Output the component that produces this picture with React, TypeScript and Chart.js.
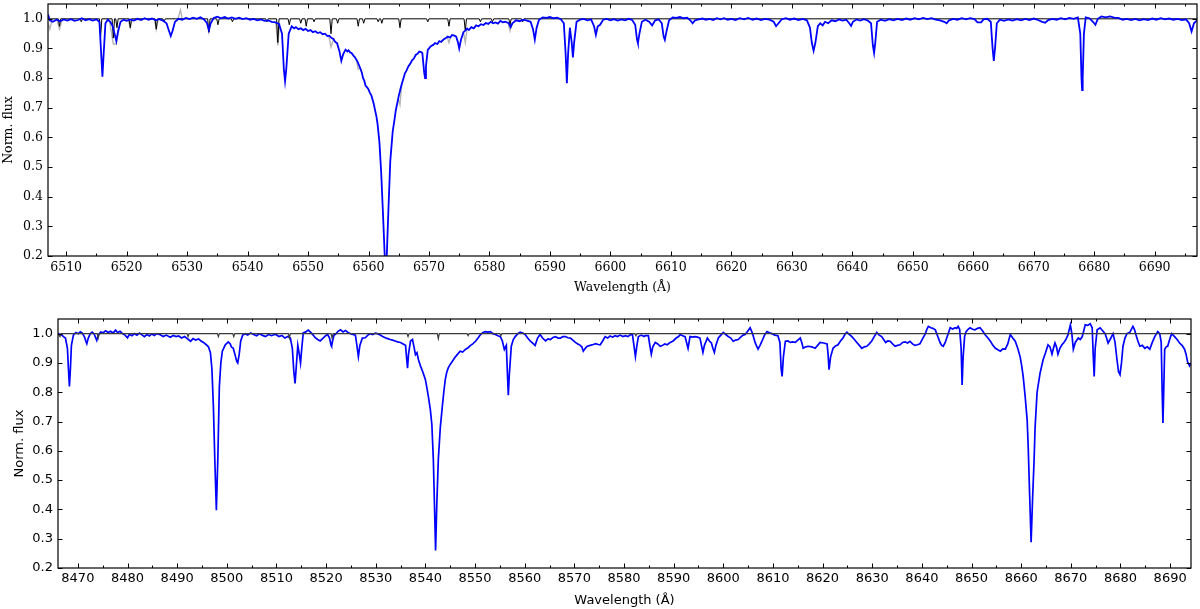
import React, { useEffect, useRef } from 'react';
import { Chart, registerables } from 'chart.js';
Chart.register(...registerables);

type Pt = [number, number];

// ---------- axis definitions ----------
const haXRange: [number, number] = [6507, 6697];
const caXRange: [number, number] = [8466, 8694.2];
const fluxRange: [number, number] = [0.2, 1.05];
const haXTicks = [6510, 6520, 6530, 6540, 6550, 6560, 6570, 6580, 6590, 6600, 6610, 6620, 6630, 6640, 6650, 6660, 6670, 6680, 6690];
const caXTicks = [8470, 8480, 8490, 8500, 8510, 8520, 8530, 8540, 8550, 8560, 8570, 8580, 8590, 8600, 8610, 8620, 8630, 8640, 8650, 8660, 8670, 8680, 8690];
const fluxTicks = [0.2, 0.3, 0.4, 0.5, 0.6, 0.7, 0.8, 0.9, 1.0];
const xTitle = 'Wavelength (Å)';
const yTitle = 'Norm. flux';

// ---------- H-alpha region: telluric-corrected spectrum (blue) ----------
const haCorrected: Pt[] = [
  [6507.0, 1.015], [6507.3, 0.995], [6507.8, 0.99], [6508.4, 0.997], [6509.0, 0.992], [6509.6, 0.998], [6510.2, 0.994],
  [6510.8, 0.999], [6511.4, 0.993], [6512.0, 0.996], [6512.6, 1.002], [6513.2, 0.995], [6513.8, 0.999], [6514.4, 0.994],
  [6515.0, 0.998], [6515.5, 0.99], [6515.8, 0.88], [6516.0, 0.805], [6516.2, 0.88], [6516.5, 0.985], [6516.9, 0.997],
  [6517.3, 0.99], [6517.7, 0.975], [6518.0, 0.95], [6518.3, 0.925], [6518.6, 0.96], [6519.0, 0.99], [6519.5, 0.997],
  [6520.0, 0.993], [6520.6, 0.998], [6521.2, 0.994], [6521.8, 1.0], [6522.4, 0.996], [6523.0, 1.002], [6523.6, 0.997],
  [6524.2, 1.001], [6524.8, 0.995], [6525.4, 0.999], [6526.0, 0.994], [6526.6, 0.985], [6527.0, 0.96], [6527.3, 0.942],
  [6527.6, 0.96], [6528.0, 0.99], [6528.6, 1.0], [6529.2, 0.997], [6529.8, 1.003], [6530.4, 0.999], [6531.0, 1.004],
  [6531.6, 1.0], [6532.2, 1.005], [6532.8, 0.998], [6533.3, 0.985], [6533.6, 0.962], [6533.9, 0.985], [6534.4, 1.003],
  [6535.0, 1.007], [6535.6, 1.002], [6536.2, 1.006], [6536.8, 1.001], [6537.4, 1.005], [6538.0, 1.0], [6538.6, 1.004],
  [6539.2, 0.999], [6539.8, 1.002], [6540.4, 0.997], [6541.0, 1.0], [6541.6, 0.995], [6542.2, 0.998], [6542.8, 0.993],
  [6543.4, 0.995], [6544.0, 0.99], [6544.6, 0.988], [6545.2, 0.983], [6545.7, 0.95], [6546.0, 0.83], [6546.2, 0.79],
  [6546.4, 0.83], [6546.8, 0.95], [6547.3, 0.975], [6547.7, 0.968], [6548.0, 0.972], [6548.4, 0.965], [6548.8, 0.968],
  [6549.2, 0.962], [6549.6, 0.966], [6550.0, 0.959], [6550.4, 0.962], [6550.8, 0.955], [6551.2, 0.958], [6551.6, 0.952],
  [6552.0, 0.955], [6552.4, 0.948], [6552.8, 0.95], [6553.2, 0.942], [6553.5, 0.943], [6553.9, 0.935], [6554.2, 0.932],
  [6554.5, 0.922], [6554.8, 0.918], [6555.2, 0.89], [6555.5, 0.858], [6555.8, 0.88], [6556.2, 0.896], [6556.5, 0.89],
  [6556.7, 0.894], [6557.0, 0.886], [6557.2, 0.885], [6557.5, 0.876], [6557.7, 0.872], [6558.0, 0.862], [6558.2, 0.855],
  [6558.5, 0.84], [6558.7, 0.83], [6558.9, 0.818], [6559.1, 0.8], [6559.3, 0.792], [6559.5, 0.775], [6559.8, 0.768],
  [6560.0, 0.762], [6560.2, 0.752], [6560.5, 0.74], [6560.7, 0.725], [6560.9, 0.71], [6561.1, 0.69], [6561.3, 0.672],
  [6561.5, 0.645], [6561.8, 0.585], [6562.1, 0.48], [6562.4, 0.34], [6562.7, 0.19], [6562.85, 0.15], [6563.0, 0.19],
  [6563.3, 0.36], [6563.6, 0.52], [6564.0, 0.62], [6564.3, 0.66], [6564.5, 0.69], [6564.8, 0.72], [6565.0, 0.74],
  [6565.3, 0.765], [6565.5, 0.78], [6565.8, 0.8], [6566.0, 0.815], [6566.3, 0.826], [6566.6, 0.84], [6566.9, 0.848],
  [6567.2, 0.86], [6567.5, 0.866], [6567.8, 0.878], [6568.1, 0.882], [6568.4, 0.89], [6568.7, 0.888], [6568.9, 0.885],
  [6569.2, 0.82], [6569.35, 0.8], [6569.5, 0.84], [6569.8, 0.895], [6570.3, 0.908], [6570.7, 0.912], [6571.0, 0.918],
  [6571.4, 0.915], [6571.7, 0.925], [6572.0, 0.922], [6572.4, 0.93], [6572.8, 0.935], [6573.1, 0.94], [6573.5, 0.937],
  [6573.8, 0.945], [6574.2, 0.943], [6574.5, 0.94], [6574.8, 0.92], [6575.0, 0.9], [6575.3, 0.93], [6575.7, 0.955],
  [6576.0, 0.96], [6576.3, 0.967], [6576.6, 0.962], [6577.0, 0.972], [6577.4, 0.968], [6577.8, 0.978], [6578.2, 0.975],
  [6578.6, 0.982], [6579.0, 0.979], [6579.4, 0.986], [6579.8, 0.983], [6580.2, 0.99], [6580.6, 0.985], [6581.0, 0.988],
  [6581.4, 0.984], [6581.8, 0.993], [6582.2, 0.988], [6582.6, 0.99], [6583.2, 0.985], [6583.5, 0.972], [6583.8, 0.985],
  [6584.4, 0.995], [6585.0, 0.992], [6585.6, 0.997], [6586.2, 0.994], [6586.8, 0.99], [6587.2, 0.965], [6587.5, 0.93],
  [6587.8, 0.97], [6588.2, 0.997], [6588.8, 1.005], [6589.4, 1.003], [6590.0, 1.006], [6590.6, 1.002], [6591.2, 1.004],
  [6591.8, 0.999], [6592.3, 0.985], [6592.6, 0.88], [6592.8, 0.783], [6593.0, 0.88], [6593.3, 0.97], [6593.6, 0.92],
  [6593.8, 0.87], [6594.0, 0.92], [6594.4, 0.99], [6595.0, 0.997], [6595.6, 1.0], [6596.2, 0.995], [6596.8, 0.998],
  [6597.3, 0.975], [6597.6, 0.946], [6597.9, 0.975], [6598.3, 0.98], [6598.8, 0.997], [6599.4, 1.0], [6600.0, 0.995],
  [6600.6, 0.999], [6601.2, 0.994], [6601.8, 0.998], [6602.4, 0.995], [6603.0, 1.0], [6603.6, 0.996], [6604.1, 0.98],
  [6604.4, 0.93], [6604.55, 0.918], [6604.8, 0.95], [6605.2, 0.99], [6605.8, 0.997], [6606.4, 0.99], [6606.9, 0.978],
  [6607.4, 0.995], [6608.0, 0.998], [6608.5, 0.985], [6608.8, 0.94], [6609.0, 0.929], [6609.3, 0.96], [6609.7, 0.995],
  [6610.3, 1.005], [6610.9, 1.003], [6611.5, 1.006], [6612.1, 1.002], [6612.7, 1.004], [6613.2, 0.995], [6613.6, 0.985],
  [6614.0, 0.995], [6614.6, 0.998], [6615.2, 1.001], [6615.8, 0.997], [6616.4, 1.0], [6617.0, 0.996], [6617.6, 1.002],
  [6618.2, 0.998], [6618.8, 1.002], [6619.4, 0.997], [6620.0, 1.0], [6620.7, 0.996], [6621.4, 1.002], [6622.1, 0.998],
  [6622.8, 1.003], [6623.5, 0.997], [6624.2, 1.001], [6624.9, 0.996], [6625.6, 1.0], [6626.3, 0.997], [6627.0, 0.99],
  [6627.4, 0.975], [6627.8, 0.985], [6628.3, 0.998], [6629.0, 1.002], [6629.7, 0.997], [6630.4, 1.001], [6631.1, 0.996],
  [6631.8, 1.0], [6632.5, 0.995], [6633.0, 0.97], [6633.3, 0.92], [6633.6, 0.892], [6633.9, 0.92], [6634.3, 0.975],
  [6634.7, 0.985], [6635.1, 0.978], [6635.5, 0.99], [6636.0, 0.985], [6636.6, 0.995], [6637.2, 0.992], [6637.8, 0.998],
  [6638.4, 0.994], [6639.0, 0.997], [6639.5, 0.985], [6639.8, 0.976], [6640.1, 0.99], [6640.7, 0.998], [6641.3, 0.994],
  [6641.9, 0.999], [6642.5, 0.995], [6643.1, 0.985], [6643.4, 0.91], [6643.6, 0.885], [6643.8, 0.92], [6644.1, 0.99],
  [6644.7, 0.997], [6645.4, 0.993], [6646.1, 0.999], [6646.8, 0.995], [6647.5, 1.0], [6648.2, 0.996], [6648.9, 1.001],
  [6649.6, 0.997], [6650.3, 1.002], [6651.0, 0.998], [6651.7, 1.003], [6652.4, 0.999], [6653.1, 1.002], [6653.8, 0.997],
  [6654.5, 0.995], [6655.2, 0.99], [6655.6, 0.985], [6656.0, 0.995], [6656.7, 1.0], [6657.4, 0.997], [6658.1, 1.002],
  [6658.8, 0.998], [6659.5, 1.002], [6660.2, 0.999], [6660.7, 0.988], [6661.3, 0.988], [6661.7, 0.998], [6662.3, 1.0],
  [6662.9, 0.99], [6663.2, 0.9], [6663.4, 0.858], [6663.6, 0.9], [6663.9, 0.985], [6664.4, 0.997], [6665.1, 0.993],
  [6665.8, 0.998], [6666.5, 0.994], [6667.2, 0.999], [6667.9, 0.995], [6668.6, 1.0], [6669.3, 0.996], [6670.0, 1.001],
  [6670.7, 0.996], [6671.4, 0.99], [6671.9, 0.987], [6672.4, 0.996], [6673.1, 1.0], [6673.8, 0.997], [6674.5, 1.002],
  [6675.2, 0.998], [6675.9, 1.003], [6676.6, 1.0], [6677.3, 1.005], [6677.7, 0.95], [6677.9, 0.8], [6678.0, 0.76],
  [6678.1, 0.8], [6678.3, 0.95], [6678.6, 1.005], [6679.2, 1.002], [6679.8, 0.99], [6680.2, 0.98], [6680.6, 1.0],
  [6681.2, 1.008], [6681.9, 1.005], [6682.6, 1.008], [6683.3, 1.004], [6684.0, 1.003], [6684.7, 0.997], [6685.4, 1.0],
  [6686.1, 0.996], [6686.8, 1.0], [6687.5, 0.995], [6688.2, 0.999], [6688.9, 0.996], [6689.6, 1.001], [6690.3, 0.997],
  [6691.0, 1.002], [6691.7, 0.998], [6692.4, 1.001], [6693.1, 0.997], [6693.8, 1.0], [6694.5, 0.996], [6695.2, 0.998],
  [6695.7, 0.985], [6696.1, 0.957], [6696.5, 0.985], [6697.0, 0.995],
];

// ---------- H-alpha region: telluric model (black) ----------
const haTelluric: Pt[] = [
  [6507.0, 1.0], [6508.7, 1.0], [6508.9, 0.975], [6509.1, 1.0], [6512.3, 1.0], [6512.5, 0.99], [6512.7, 1.0],
  [6515.5, 1.0], [6515.7, 0.94], [6515.9, 1.0], [6517.6, 1.0], [6517.8, 0.935], [6518.0, 1.0], [6518.2, 1.0],
  [6518.4, 0.97], [6518.6, 1.0], [6520.4, 1.0], [6520.6, 0.97], [6520.8, 1.0], [6524.7, 1.0], [6524.9, 0.965],
  [6525.1, 1.0], [6526.0, 1.0], [6526.2, 0.99], [6526.4, 1.0], [6533.4, 1.0], [6533.6, 0.955], [6533.8, 1.0],
  [6534.9, 1.0], [6535.1, 0.98], [6535.3, 1.0], [6537.3, 1.0], [6537.5, 0.99], [6537.7, 1.0], [6543.0, 1.0],
  [6543.2, 0.99], [6543.4, 1.0], [6544.8, 1.0], [6545.0, 0.92], [6545.2, 1.0], [6546.7, 1.0], [6546.9, 0.98],
  [6547.1, 1.0], [6548.6, 1.0], [6548.8, 0.985], [6549.0, 1.0], [6549.5, 1.0], [6549.7, 0.975], [6549.9, 1.0],
  [6550.8, 1.0], [6551.0, 0.99], [6551.2, 1.0], [6553.6, 1.0], [6553.8, 0.95], [6554.0, 1.0], [6554.7, 1.0],
  [6554.9, 0.985], [6555.1, 1.0], [6558.1, 1.0], [6558.3, 0.975], [6558.5, 1.0], [6559.0, 1.0], [6559.2, 0.985],
  [6559.4, 1.0], [6561.4, 1.0], [6561.6, 0.99], [6561.8, 1.0], [6562.0, 1.0], [6562.2, 0.985], [6562.4, 1.0],
  [6565.0, 1.0], [6565.2, 0.97], [6565.4, 1.0], [6569.6, 1.0], [6569.8, 0.99], [6570.0, 1.0], [6573.1, 1.0],
  [6573.3, 0.975], [6573.5, 1.0], [6575.8, 1.0], [6576.0, 0.96], [6576.2, 1.0], [6578.3, 1.0], [6578.5, 0.99],
  [6578.7, 1.0], [6580.3, 1.0], [6580.5, 0.99], [6580.7, 1.0], [6583.2, 1.0], [6583.4, 0.98], [6583.6, 1.0],
  [6585.3, 1.0], [6585.5, 0.99], [6585.7, 1.0], [6697.0, 1.0],
];

// ---------- H-alpha region: uncorrected spectrum (grey), visible only where it departs ----------
const haUncorrected: Pt[][] = [
  [[6507.0, 0.985], [6507.3, 0.965], [6507.6, 0.99]],
  [[6508.5, 0.995], [6508.9, 0.965], [6509.3, 0.995]],
  [[6517.2, 0.99], [6517.8, 0.915], [6518.3, 0.915], [6518.8, 0.97]],
  [[6520.3, 0.995], [6520.6, 0.97], [6520.9, 0.995]],
  [[6524.6, 1.0], [6524.9, 0.965], [6525.2, 0.995]],
  [[6528.5, 1.0], [6528.9, 1.03], [6529.2, 1.0]],
  [[6533.3, 0.985], [6533.6, 0.955], [6533.9, 0.985]],
  [[6544.7, 0.985], [6545.0, 0.91], [6545.3, 0.985]],
  [[6553.4, 0.945], [6553.8, 0.905], [6554.2, 0.93]],
  [[6558.0, 0.86], [6558.3, 0.83], [6558.6, 0.835]],
  [[6564.9, 0.73], [6565.2, 0.71], [6565.5, 0.78]],
  [[6573.0, 0.94], [6573.3, 0.92], [6573.6, 0.94]],
  [[6575.7, 0.955], [6576.0, 0.92], [6576.3, 0.965]],
  [[6583.1, 0.985], [6583.4, 0.96], [6583.7, 0.985]],
];

// ---------- Ca II triplet region: corrected spectrum (blue) ----------
const caCorrected: Pt[] = [
  [8466.0, 1.0], [8466.4, 0.998], [8466.8, 0.995], [8467.1, 0.99], [8467.5, 0.985], [8467.9, 0.95], [8468.1, 0.88],
  [8468.3, 0.82], [8468.5, 0.88], [8468.7, 0.96], [8469.1, 0.995], [8469.6, 1.004], [8470.1, 1.0], [8470.5, 1.006],
  [8470.9, 1.002], [8471.3, 0.99], [8471.6, 0.975], [8471.8, 0.966], [8472.1, 0.985], [8472.5, 1.0], [8472.9, 1.005],
  [8473.3, 0.998], [8473.6, 0.985], [8473.8, 0.977], [8474.1, 0.995], [8474.6, 1.006], [8475.1, 1.003], [8475.6, 1.01],
  [8476.1, 1.004], [8476.6, 1.008], [8477.1, 1.002], [8477.6, 1.012], [8478.0, 1.004], [8478.5, 1.008], [8479.0, 1.0],
  [8479.5, 0.995], [8480.0, 0.986], [8480.4, 0.998], [8480.9, 0.993], [8481.4, 1.0], [8481.9, 0.995], [8482.4, 1.002],
  [8482.9, 0.996], [8483.4, 0.99], [8483.9, 0.997], [8484.4, 0.992], [8484.9, 0.999], [8485.4, 0.994], [8485.9, 1.0],
  [8486.6, 0.996], [8487.2, 0.99], [8487.8, 0.995], [8488.6, 0.988], [8489.2, 0.994], [8489.8, 0.99], [8490.3, 0.992],
  [8490.9, 0.985], [8491.5, 0.99], [8492.1, 0.982], [8492.7, 0.974], [8493.2, 0.983], [8493.7, 0.978], [8494.3, 0.982],
  [8494.8, 0.975], [8495.3, 0.97], [8495.8, 0.963], [8496.3, 0.955], [8496.7, 0.935], [8497.0, 0.88], [8497.3, 0.75],
  [8497.6, 0.56], [8497.9, 0.397], [8498.2, 0.58], [8498.5, 0.82], [8498.8, 0.9], [8499.1, 0.94], [8499.7, 0.962],
  [8500.3, 0.972], [8500.7, 0.965], [8500.9, 0.955], [8501.3, 0.95], [8501.7, 0.925], [8502.0, 0.905], [8502.2, 0.9],
  [8502.5, 0.93], [8502.8, 0.975], [8503.2, 0.995], [8503.7, 1.0], [8504.2, 0.995], [8504.8, 1.002], [8505.4, 0.997],
  [8506.0, 0.993], [8506.6, 1.0], [8507.2, 0.994], [8507.8, 0.99], [8508.4, 0.997], [8509.0, 0.993], [8509.8, 0.998],
  [8510.5, 0.99], [8511.1, 0.994], [8511.7, 0.985], [8512.3, 0.99], [8512.8, 0.985], [8513.2, 0.95], [8513.5, 0.87],
  [8513.75, 0.83], [8514.0, 0.89], [8514.3, 0.96], [8514.6, 0.93], [8514.85, 0.9], [8515.1, 0.95], [8515.4, 1.003],
  [8515.9, 1.006], [8516.4, 1.012], [8516.9, 1.004], [8517.4, 0.995], [8517.8, 0.986], [8518.3, 0.98], [8518.8, 0.975],
  [8519.4, 0.985], [8519.9, 0.993], [8520.3, 0.997], [8520.7, 0.985], [8521.0, 0.96], [8521.1, 0.957], [8521.3, 0.975],
  [8521.6, 0.995], [8521.9, 0.998], [8522.4, 1.008], [8522.9, 1.013], [8523.4, 1.006], [8523.9, 1.011], [8524.4, 1.004],
  [8524.9, 1.0], [8525.4, 0.997], [8525.9, 0.995], [8526.2, 0.96], [8526.5, 0.922], [8526.8, 0.96], [8527.3, 0.985],
  [8527.9, 0.986], [8528.4, 0.995], [8528.9, 1.0], [8529.4, 0.997], [8529.9, 1.002], [8530.3, 1.0], [8530.9, 0.995],
  [8531.4, 0.99], [8531.9, 0.986], [8532.4, 0.983], [8532.9, 0.98], [8533.4, 0.978], [8533.9, 0.975], [8534.4, 0.972],
  [8535.0, 0.97], [8535.5, 0.965], [8536.0, 0.96], [8536.2, 0.92], [8536.4, 0.882], [8536.6, 0.93], [8537.0, 0.975],
  [8537.4, 0.98], [8537.7, 0.955], [8538.0, 0.928], [8538.3, 0.935], [8538.6, 0.911], [8539.0, 0.89], [8539.5, 0.868],
  [8540.0, 0.843], [8540.3, 0.815], [8540.6, 0.785], [8541.0, 0.74], [8541.3, 0.69], [8541.6, 0.57], [8541.85, 0.4],
  [8542.05, 0.26], [8542.3, 0.42], [8542.6, 0.57], [8543.0, 0.68], [8543.4, 0.75], [8543.7, 0.8], [8544.0, 0.843],
  [8544.3, 0.868], [8544.6, 0.883], [8545.0, 0.895], [8545.4, 0.905], [8546.0, 0.92], [8546.5, 0.93], [8547.0, 0.94],
  [8547.5, 0.937], [8548.1, 0.947], [8548.6, 0.952], [8549.1, 0.96], [8549.6, 0.966], [8550.1, 0.974], [8550.6, 0.985],
  [8551.1, 0.997], [8551.6, 1.004], [8552.1, 1.007], [8552.6, 1.005], [8553.1, 1.007], [8553.6, 1.0], [8554.1, 0.997],
  [8554.6, 0.993], [8555.1, 0.99], [8555.5, 0.975], [8555.9, 0.946], [8556.3, 0.96], [8556.55, 0.85], [8556.7, 0.79],
  [8556.9, 0.86], [8557.3, 0.957], [8557.7, 0.98], [8558.1, 0.99], [8558.6, 1.0], [8559.1, 1.005], [8559.6, 1.002],
  [8560.1, 0.997], [8560.6, 0.985], [8561.1, 0.975], [8561.6, 0.968], [8562.1, 0.96], [8562.6, 0.985], [8563.1, 0.997],
  [8563.6, 0.985], [8564.2, 0.975], [8564.7, 0.982], [8565.2, 0.98], [8565.7, 0.987], [8566.2, 0.99], [8566.7, 0.985],
  [8567.2, 0.985], [8567.7, 0.99], [8568.2, 0.99], [8568.7, 0.986], [8569.2, 0.985], [8569.7, 0.978], [8570.2, 0.97],
  [8570.7, 0.965], [8571.2, 0.96], [8571.5, 0.955], [8571.8, 0.94], [8572.2, 0.95], [8572.6, 0.957], [8573.2, 0.96],
  [8573.8, 0.963], [8574.3, 0.966], [8574.8, 0.963], [8575.2, 0.962], [8575.7, 0.975], [8576.2, 0.99], [8576.7, 0.985],
  [8577.2, 0.992], [8577.7, 0.988], [8578.2, 0.993], [8578.7, 0.99], [8579.2, 0.995], [8579.8, 0.99], [8580.3, 0.993],
  [8580.8, 0.99], [8581.3, 0.997], [8581.7, 0.997], [8582.0, 0.96], [8582.3, 0.922], [8582.6, 0.96], [8582.9, 0.99],
  [8583.5, 0.995], [8584.0, 0.99], [8584.3, 0.993], [8584.9, 0.993], [8585.2, 0.96], [8585.5, 0.93], [8585.8, 0.955],
  [8586.3, 0.97], [8586.8, 0.965], [8587.3, 0.957], [8587.8, 0.96], [8588.2, 0.965], [8588.7, 0.962], [8589.3, 0.97],
  [8589.9, 0.975], [8590.5, 0.985], [8591.0, 0.99], [8591.3, 0.997], [8591.8, 0.993], [8592.3, 0.99], [8592.6, 0.97],
  [8592.9, 0.95], [8593.1, 0.97], [8593.3, 0.99], [8593.8, 0.988], [8594.3, 0.99], [8594.8, 0.988], [8595.3, 0.985],
  [8595.6, 0.96], [8595.9, 0.936], [8596.2, 0.96], [8596.8, 0.985], [8597.2, 0.975], [8597.6, 0.968], [8597.9, 0.95],
  [8598.2, 0.936], [8598.5, 0.96], [8599.0, 0.985], [8599.5, 0.995], [8600.0, 1.004], [8600.5, 0.997], [8601.0, 0.99],
  [8601.5, 0.985], [8602.0, 0.974], [8602.5, 0.978], [8603.0, 0.98], [8603.6, 0.99], [8604.0, 0.995], [8604.4, 0.997],
  [8604.9, 1.008], [8605.4, 1.02], [8605.9, 1.0], [8606.4, 0.97], [8606.7, 0.958], [8607.0, 0.947], [8607.4, 0.96],
  [8607.8, 0.975], [8608.3, 0.995], [8608.8, 1.007], [8609.3, 1.003], [8609.8, 1.0], [8610.4, 0.995], [8611.0, 0.993],
  [8611.4, 0.97], [8611.65, 0.88], [8611.85, 0.854], [8612.1, 0.92], [8612.5, 0.974], [8613.0, 0.975], [8613.5, 0.97],
  [8614.0, 0.972], [8614.5, 0.97], [8615.0, 0.978], [8615.5, 0.985], [8615.8, 0.97], [8616.1, 0.95], [8616.6, 0.955],
  [8617.1, 0.957], [8617.8, 0.955], [8618.5, 0.95], [8619.0, 0.96], [8619.5, 0.97], [8620.2, 0.968], [8620.9, 0.965],
  [8621.1, 0.93], [8621.3, 0.877], [8621.6, 0.92], [8622.1, 0.95], [8622.6, 0.958], [8623.1, 0.962], [8623.6, 0.975],
  [8624.1, 0.985], [8624.5, 0.998], [8624.9, 1.005], [8625.4, 0.997], [8625.9, 0.99], [8626.4, 0.98], [8626.9, 0.97],
  [8627.4, 0.96], [8627.9, 0.95], [8628.4, 0.955], [8628.9, 0.957], [8629.4, 0.965], [8629.9, 0.975], [8630.4, 0.99],
  [8630.9, 1.004], [8631.4, 0.995], [8631.9, 0.99], [8632.3, 0.98], [8632.7, 0.97], [8633.1, 0.975], [8633.6, 0.974],
  [8634.1, 0.965], [8634.6, 0.957], [8635.1, 0.96], [8635.6, 0.962], [8636.1, 0.97], [8636.6, 0.972], [8637.1, 0.968],
  [8637.6, 0.974], [8638.1, 0.965], [8638.6, 0.96], [8639.1, 0.962], [8639.6, 0.965], [8640.2, 0.985], [8640.7, 1.0],
  [8641.0, 1.015], [8641.3, 1.025], [8641.8, 1.02], [8642.2, 1.018], [8642.7, 1.013], [8643.2, 0.99], [8643.7, 0.968],
  [8644.0, 0.96], [8644.3, 0.957], [8644.7, 0.97], [8645.1, 0.99], [8645.4, 1.005], [8645.7, 1.02], [8646.2, 1.016],
  [8646.7, 1.02], [8647.0, 1.018], [8647.3, 1.025], [8647.6, 1.015], [8647.9, 0.95], [8648.1, 0.825], [8648.3, 0.92],
  [8648.6, 0.99], [8648.9, 1.007], [8649.3, 1.015], [8649.7, 1.02], [8650.2, 1.015], [8650.7, 1.013], [8651.2, 1.018],
  [8651.7, 1.02], [8652.2, 1.01], [8652.7, 0.997], [8653.3, 0.985], [8653.8, 0.974], [8654.3, 0.96], [8654.8, 0.95],
  [8655.3, 0.945], [8655.8, 0.94], [8656.3, 0.948], [8656.8, 0.947], [8657.3, 0.965], [8657.8, 0.997], [8658.3, 0.985],
  [8658.8, 0.974], [8659.3, 0.95], [8659.8, 0.92], [8660.1, 0.89], [8660.4, 0.854], [8660.8, 0.785], [8661.2, 0.705],
  [8661.4, 0.62], [8661.7, 0.45], [8662.0, 0.288], [8662.3, 0.44], [8662.6, 0.57], [8662.8, 0.68], [8663.2, 0.8],
  [8663.8, 0.865], [8664.4, 0.91], [8664.9, 0.935], [8665.4, 0.962], [8665.8, 0.955], [8666.2, 0.93], [8666.5, 0.95],
  [8666.8, 0.968], [8667.1, 0.955], [8667.4, 0.93], [8667.8, 0.95], [8668.2, 0.962], [8668.6, 0.97], [8669.0, 0.98],
  [8669.4, 0.995], [8669.9, 1.03], [8670.2, 1.0], [8670.5, 0.947], [8670.9, 0.97], [8671.5, 0.985], [8671.9, 0.98],
  [8672.3, 0.99], [8672.6, 1.01], [8672.9, 1.03], [8673.4, 1.028], [8673.9, 1.034], [8674.3, 1.02], [8674.5, 0.93],
  [8674.7, 0.854], [8674.9, 0.95], [8675.3, 1.013], [8675.9, 1.02], [8676.4, 1.01], [8676.9, 1.0], [8677.2, 0.985],
  [8677.5, 0.968], [8677.9, 0.98], [8678.2, 0.99], [8678.5, 1.0], [8678.9, 0.97], [8679.3, 0.91], [8679.6, 0.87],
  [8679.9, 0.86], [8680.2, 0.9], [8680.5, 0.957], [8680.9, 0.985], [8681.3, 1.0], [8681.9, 1.005], [8682.5, 1.025],
  [8682.8, 1.015], [8683.1, 0.997], [8683.5, 0.975], [8683.9, 0.957], [8684.4, 0.96], [8684.9, 0.95], [8685.4, 0.955],
  [8685.9, 0.947], [8686.4, 0.97], [8686.9, 0.99], [8687.5, 1.007], [8687.9, 1.0], [8688.2, 0.97], [8688.4, 0.8],
  [8688.55, 0.695], [8688.7, 0.8], [8688.9, 0.947], [8689.2, 0.955], [8689.5, 0.957], [8689.9, 0.98], [8690.3, 1.0],
  [8690.9, 0.99], [8691.4, 0.98], [8691.9, 0.968], [8692.4, 0.96], [8692.9, 0.947], [8693.2, 0.93], [8693.5, 0.905],
  [8693.9, 0.89], [8694.2, 0.9],
];

// ---------- Ca II triplet region: telluric model (black) ----------
const caTelluric: Pt[] = [
  [8466.0, 1.0], [8466.2, 1.0], [8466.4, 0.99], [8466.6, 1.0], [8473.9, 1.0], [8474.1, 0.985], [8474.3, 1.0],
  [8492.0, 1.0], [8492.2, 0.99], [8492.4, 1.0], [8498.1, 1.0], [8498.3, 0.99], [8498.5, 1.0], [8501.2, 1.0],
  [8501.4, 0.99], [8501.6, 1.0], [8512.4, 1.0], [8512.6, 0.985], [8512.8, 1.0], [8521.0, 1.0], [8521.2, 0.985],
  [8521.4, 1.0], [8536.3, 1.0], [8536.5, 0.99], [8536.7, 1.0], [8542.4, 1.0], [8542.6, 0.983], [8542.8, 1.0],
  [8548.4, 1.0], [8548.6, 0.993], [8548.8, 1.0], [8555.0, 1.0], [8555.2, 0.993], [8555.4, 1.0], [8582.2, 1.0],
  [8582.4, 0.993], [8582.6, 1.0], [8694.2, 1.0],
];

// ---------- helpers ----------
const toXY = (pts: Pt[]) => pts.map(([x, y]) => ({ x, y }));
const joinSegments = (segs: Pt[][]) => {
  const out: { x: number; y: number | null }[] = [];
  segs.forEach((s, i) => {
    if (i > 0) out.push({ x: s[0][0] - 0.01, y: null });
    s.forEach(([x, y]) => out.push({ x, y }));
  });
  return out;
};

const frameTicksPlugin = {
  id: 'frameTicks',
  afterDatasetsDraw(chart: any, _args: any, opts: any) {
    const { ctx, chartArea: a, scales } = chart;
    const xs = scales.x;
    const ys = scales.y;
    const major = 4.5;
    const minor = 2.5;
    ctx.save();
    ctx.strokeStyle = '#000';
    ctx.lineWidth = 1;
    ctx.beginPath();
    const xt: number[] = opts.xTicks;
    const step = xt[1] - xt[0];
    const vTick = (v: number, len: number) => {
      const px = Math.round(xs.getPixelForValue(v)) + 0.5;
      ctx.moveTo(px, a.bottom);
      ctx.lineTo(px, a.bottom - len);
      ctx.moveTo(px, a.top);
      ctx.lineTo(px, a.top + len);
    };
    xt.forEach((v) => vTick(v, major));
    for (let v = xt[0] - step / 2; v <= xs.max; v += step) {
      if (v >= xs.min) vTick(v, minor);
    }
    (opts.yTicks as number[]).forEach((v) => {
      const py = Math.round(ys.getPixelForValue(v)) + 0.5;
      ctx.moveTo(a.left, py);
      ctx.lineTo(a.left + major, py);
      ctx.moveTo(a.right, py);
      ctx.lineTo(a.right - major, py);
    });
    ctx.stroke();
    ctx.lineWidth = 1.2;
    ctx.strokeRect(a.left, a.top, a.right - a.left, a.bottom - a.top);
    ctx.restore();
  },
};

interface PanelProps {
  top: number;
  height: number;
  fontFamily: string;
  fontSize: number;
  xRange: [number, number];
  xTicks: number[];
  padRight: number;
  padTop: number;
  yAxisWidth: number;
  xAxisHeight: number;
  yTitleOffset: number;
  xTitlePadBottom: number;
  xTickPad: number;
  yTickPad: number;
  makeDatasets: () => any[];
}

function Panel(p: PanelProps) {
  const ref = useRef<HTMLCanvasElement>(null);
  useEffect(() => {
    const font = { family: p.fontFamily, size: p.fontSize };
    const chart = new Chart(ref.current as HTMLCanvasElement, {
      type: 'line',
      data: { datasets: p.makeDatasets() },
      options: {
        animation: false,
        responsive: false,
        events: [],
        layout: { padding: { left: 0, right: p.padRight, top: p.padTop, bottom: 0 } },
        plugins: {
          legend: { display: false },
          tooltip: { enabled: false },
          frameTicks: { xTicks: p.xTicks, yTicks: fluxTicks },
        } as any,
        scales: {
          x: {
            type: 'linear',
            min: p.xRange[0],
            max: p.xRange[1],
            afterBuildTicks: (s: any) => {
              s.ticks = p.xTicks.map((v) => ({ value: v }));
            },
            afterFit: (s: any) => {
              s.height = p.xAxisHeight;
              s.paddingLeft = 0;
              s.paddingRight = 0;
            },
            grid: { display: false, drawTicks: false },
            border: { display: false },
            ticks: {
              padding: p.xTickPad,
              color: '#000',
              font,
              maxRotation: 0,
              autoSkip: false,
              callback: (v: any) => String(v),
            },
            title: {
              display: true,
              text: xTitle,
              color: '#000',
              font,
              padding: { top: 0, bottom: p.xTitlePadBottom },
            },
          },
          y: {
            type: 'linear',
            min: fluxRange[0],
            max: fluxRange[1],
            afterBuildTicks: (s: any) => {
              s.ticks = fluxTicks.map((v) => ({ value: v }));
            },
            afterFit: (s: any) => {
              s.width = p.yAxisWidth;
              s.paddingTop = 0;
              s.paddingBottom = 0;
            },
            grid: { display: false, drawTicks: false },
            border: { display: false },
            ticks: {
              padding: p.yTickPad,
              color: '#000',
              font,
              autoSkip: false,
              callback: (v: any) => Number(v).toFixed(1),
            },
            title: {
              display: true,
              text: yTitle,
              color: '#000',
              font,
              padding: { top: p.yTitleOffset, bottom: 0 },
            },
          },
        },
      } as any,
      plugins: [frameTicksPlugin],
    });
    return () => chart.destroy();
  }, []);
  return (
    <canvas
      ref={ref}
      width={1200}
      height={p.height}
      style={{ position: 'absolute', left: 0, top: p.top, width: 1200, height: p.height, display: 'block' }}
    />
  );
}

export default function App() {
  const haDatasets = () => [
    { data: toXY(haCorrected), borderColor: '#0000ff', borderWidth: 1.8, pointRadius: 0, tension: 0, order: 0, clip: 0 },
    { data: toXY(haTelluric), borderColor: '#000000', borderWidth: 1, pointRadius: 0, tension: 0, order: 1, clip: 0 },
    { data: joinSegments(haUncorrected), borderColor: '#b4b4b4', borderWidth: 1.4, pointRadius: 0, tension: 0, order: 2, clip: 0, spanGaps: false },
  ];
  const caDatasets = () => [
    { data: toXY(caTelluric), borderColor: '#3a3a3a', borderWidth: 1.2, pointRadius: 0, tension: 0, order: 0, clip: 0 },
    { data: toXY(caCorrected), borderColor: '#0000ff', borderWidth: 1.7, pointRadius: 0, tension: 0, order: 1, clip: 0 },
  ];
  return (
    <div style={{ position: 'absolute', left: 0, top: 0, width: 1200, height: 609, background: '#fff', overflow: 'hidden' }}>
      <Panel
        top={0}
        height={305}
        fontFamily="'DejaVu Serif', serif"
        fontSize={12.5}
        xRange={haXRange}
        xTicks={haXTicks}
        padRight={3}
        padTop={4}
        yAxisWidth={48}
        xAxisHeight={49}
        yTitleOffset={1}
        xTitlePadBottom={10}
        xTickPad={4}
        yTickPad={5}
        makeDatasets={haDatasets}
      />
      <Panel
        top={305}
        height={304}
        fontFamily="'DejaVu Sans', sans-serif"
        fontSize={13}
        xRange={caXRange}
        xTicks={caXTicks}
        padRight={9}
        padTop={14}
        yAxisWidth={58}
        xAxisHeight={41}
        yTitleOffset={12}
        xTitlePadBottom={1}
        xTickPad={3}
        yTickPad={5}
        makeDatasets={caDatasets}
      />
    </div>
  );
}
